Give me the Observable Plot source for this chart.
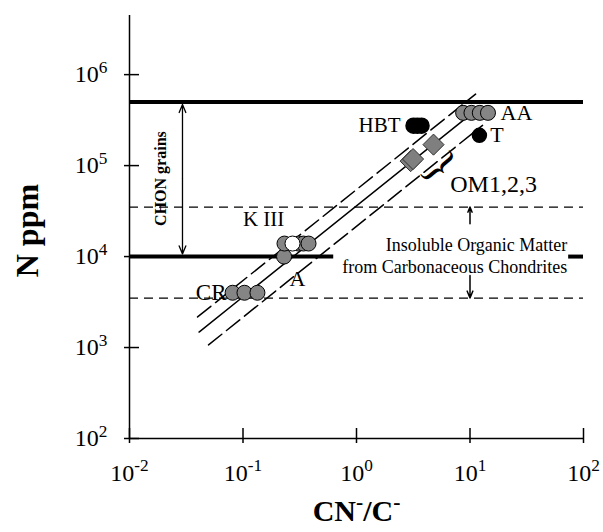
<!DOCTYPE html>
<html><head><meta charset="utf-8">
<script src="https://cdn.jsdelivr.net/npm/d3@7"></script>
<script src="https://cdn.jsdelivr.net/npm/@observablehq/plot@0.6"></script>
<style>
body{margin:0;background:#fff;}
</style></head><body><div id="chart"></div>
<script>
// ---- axes ----
const xTicks = [0.01, 0.1, 1, 10, 100];
const xTickLabels = ["10^{-2}", "10^{-1}", "10^{0}", "10^{1}", "10^{2}"];
const yTicks = [1e2, 1e3, 1e4, 1e5, 1e6];
const yTickLabels = ["10^{2}", "10^{3}", "10^{4}", "10^{5}", "10^{6}"];

// ---- samples: CN-/C- ratio and N ppm ----
const crRatio = [0.081, 0.103, 0.134];
const crN = [4000, 4000, 4000];
const k3Ratio = [0.232, 0.308, 0.341, 0.378];
const k3N = [1.39e4, 1.39e4, 1.39e4, 1.39e4];
const k3WhiteRatio = [0.273];
const k3WhiteN = [1.39e4];
const aRatio = [0.23];
const aN = [1.0e4];
const aaRatio = [8.7, 10.3, 12.2, 14.4];
const aaN = [3.8e5, 3.8e5, 3.8e5, 3.8e5];
const tRatio = [12.1];
const tN = [2.15e5];
const hbtRatio = [3.18, 3.44, 3.74];
const hbtN = [2.75e5, 2.75e5, 2.75e5];
const omRatio = [3.0, 3.15, 4.77];
const omN = [1.12e5, 1.18e5, 1.70e5];

// ---- correlation lines (end points) ----
const fitRatio = [0.041, 11.5];
const fitN = [1480, 4.15e5];
const upperRatio = [0.0398, 11.2];
const upperN = [2170, 6.1e5];
const lowerRatio = [0.0497, 12.9];
const lowerN = [1070, 2.77e5];

// ---- reference levels ----
const chonTop = [5e5];
const chonBottomSegStart = [0.01, 74];
const chonBottomSegEnd = [0.63, 100];
const chonBottom = 1e4;
const iomLevels = [3.5e4, 3.5e3];

// ---- annotations ----
const labelsEnd = [{t: "HBT", x: 2.44, y: 2.75e5, s: 21}, {t: "CR", x: 0.0716, y: 4.0e3, s: 23}];
const labelsStart = [{t: "AA", x: 18.6, y: 3.8e5, s: 22}, {t: "T", x: 15.1, y: 2.15e5, s: 22}, {t: "OM1,2,3", x: 6.7, y: 6.3e4, s: 24}];
const labelsMid = [{t: "K III", x: 0.152, y: 2.6e4, s: 21}, {t: "A", x: 0.302, y: 5.7e3, s: 22}];
const chonArrowX = 0.0293, chonArrowMid = 7.2e4, chonArrowEnds = [4.7e5, 1.07e4];
const iomArrowX = 10, iomArrowFrom = [2.3e4, 6.2e3], iomArrowTo = [3.5e4, 3.5e3];

const zip = (xs, ys) => xs.map((x, i) => ({x, y: ys[i]}));
const serif = "'Liberation Serif', 'Times New Roman', serif";
const labelMarks = (arr, anchor) => arr.map(d => Plot.text([d], {x: "x", y: "y", text: "t", textAnchor: anchor, fontSize: d.s}));

const chart = Plot.plot({
  width: 603, height: 532,
  marginLeft: 129, marginRight: 20, marginTop: 15, marginBottom: 94,
  x: {type: "log", domain: [0.01, 100]},
  y: {type: "log", domain: [100, Math.pow(10, 6.65)]},
  style: {fontFamily: serif, fontSize: "20px", background: "white", color: "black"},
  marks: [
    // reference levels
    Plot.ruleY(chonTop, {strokeWidth: 4}),
    Plot.ruleY(chonBottomSegStart.map((s, i) => ({x1: s, x2: chonBottomSegEnd[i], y: chonBottom})), {x1: "x1", x2: "x2", y: "y", strokeWidth: 4}),
    Plot.ruleY(iomLevels, {strokeWidth: 1.3, strokeDasharray: "9,6"}),
    // correlation lines
    Plot.line(zip(upperRatio, upperN), {x: "x", y: "y", strokeWidth: 1.5, strokeDasharray: "17,6"}),
    Plot.line(zip(fitRatio, fitN), {x: "x", y: "y", strokeWidth: 1.5}),
    Plot.line(zip(lowerRatio, lowerN), {x: "x", y: "y", strokeWidth: 1.5, strokeDasharray: "17,6"}),
    // axes lines
    Plot.ruleY([100], {strokeWidth: 1.5}),
    Plot.ruleX([0.01], {strokeWidth: 1.5}),
    // ticks crossing axis
    Plot.axisX(xTicks, {tickSize: 15, dy: -10, fill: "none", strokeWidth: 1.5, label: null}),
    Plot.axisY(yTicks, {tickSize: 15, dx: 10, fill: "none", strokeWidth: 1.5, label: null}),
    Plot.axisX(xTicks, {tickSize: 0, tickPadding: 25, stroke: "none", label: null, fontSize: 24,
      tickFormat: d => xTickLabels[xTicks.indexOf(d)]}),
    Plot.axisY(yTicks, {tickSize: 0, tickPadding: 22, stroke: "none", label: null, fontSize: 24,
      tickFormat: d => yTickLabels[yTicks.indexOf(d)]}),
    // arrows
    Plot.arrow(chonArrowEnds.map(e => ({x: chonArrowX, y1: chonArrowMid, y2: e})), {x: "x", y1: "y1", y2: "y2", strokeWidth: 1.3, headLength: 10, headAngle: 45}),
    Plot.arrow(iomArrowFrom.map((f, i) => ({x: iomArrowX, y1: f, y2: iomArrowTo[i]})), {x: "x", y1: "y1", y2: "y2", strokeWidth: 1.5, headLength: 10, headAngle: 45}),
    // samples
    Plot.dot(zip(crRatio, crN), {x: "x", y: "y", r: 7.5, fill: "#858585", stroke: "black", strokeWidth: 1}),
    Plot.dot(zip(aRatio, aN), {x: "x", y: "y", r: 7.5, fill: "#858585", stroke: "black", strokeWidth: 1}),
    Plot.dot(zip(k3Ratio, k3N), {x: "x", y: "y", r: 7.5, fill: "#858585", stroke: "black", strokeWidth: 1}),
    Plot.dot(zip(k3WhiteRatio, k3WhiteN), {x: "x", y: "y", r: 7.5, fill: "white", stroke: "black", strokeWidth: 1}),
    Plot.dot(zip(omRatio, omN), {x: "x", y: "y", r: 9.5, symbol: "diamond2", fill: "#7f7f7f", stroke: "#333", strokeWidth: 1}),
    Plot.dot(zip(hbtRatio, hbtN), {x: "x", y: "y", r: 7.5, fill: "black", stroke: "black"}),
    Plot.dot(zip(aaRatio, aaN), {x: "x", y: "y", r: 7.5, fill: "#858585", stroke: "black", strokeWidth: 1}),
    Plot.dot(zip(tRatio, tN), {x: "x", y: "y", r: 7, fill: "black", stroke: "black"}),
    // labels
    ...labelMarks(labelsEnd, "end"),
    ...labelMarks(labelsStart, "start"),
    ...labelMarks(labelsMid, "middle"),
    Plot.text(["}"], {x: 5.5, y: 9.8e4, rotate: 50, fontSize: 46}),
    Plot.text(["Insoluble Organic Matter\nfrom Carbonaceous Chondrites"], {x: 72, y: 1.05e4, textAnchor: "end", lineHeight: 1.22, fontSize: 18}),
    Plot.text(["CHON grains"], {x: 0.01875, y: 7.2e4, rotate: -90, fontWeight: "bold", fontSize: 16}),
    // axis titles
    Plot.text(["N ppm"], {x: 0.01, y: 1.93e4, dx: -102, rotate: -90, fontWeight: "bold", fontSize: 32}),
    Plot.text(["CN^{-}/C^{-}"], {frameAnchor: "bottom", dy: 82, fontWeight: "bold", fontSize: 30})
  ]
});
document.getElementById("chart").appendChild(chart);

// superscripts
const NS = "http://www.w3.org/2000/svg";
chart.querySelectorAll("text").forEach(t => {
  const s = t.textContent;
  if (!s.includes("^{")) return;
  t.textContent = "";
  const parts = s.split(/(\^\{[^}]*\})/);
  let afterSup = false;
  parts.forEach(p => {
    if (!p) return;
    const m = p.match(/^\^\{([^}]*)\}$/);
    const ts = document.createElementNS(NS, "tspan");
    if (m) {
      ts.textContent = m[1];
      ts.setAttribute("font-size", "0.72em");
      ts.setAttribute("dy", "-0.55em");
      afterSup = true;
    } else {
      ts.textContent = p;
      if (afterSup) ts.setAttribute("dy", "0.396em");
      afterSup = false;
    }
    t.appendChild(ts);
  });
});
</script></body></html>
